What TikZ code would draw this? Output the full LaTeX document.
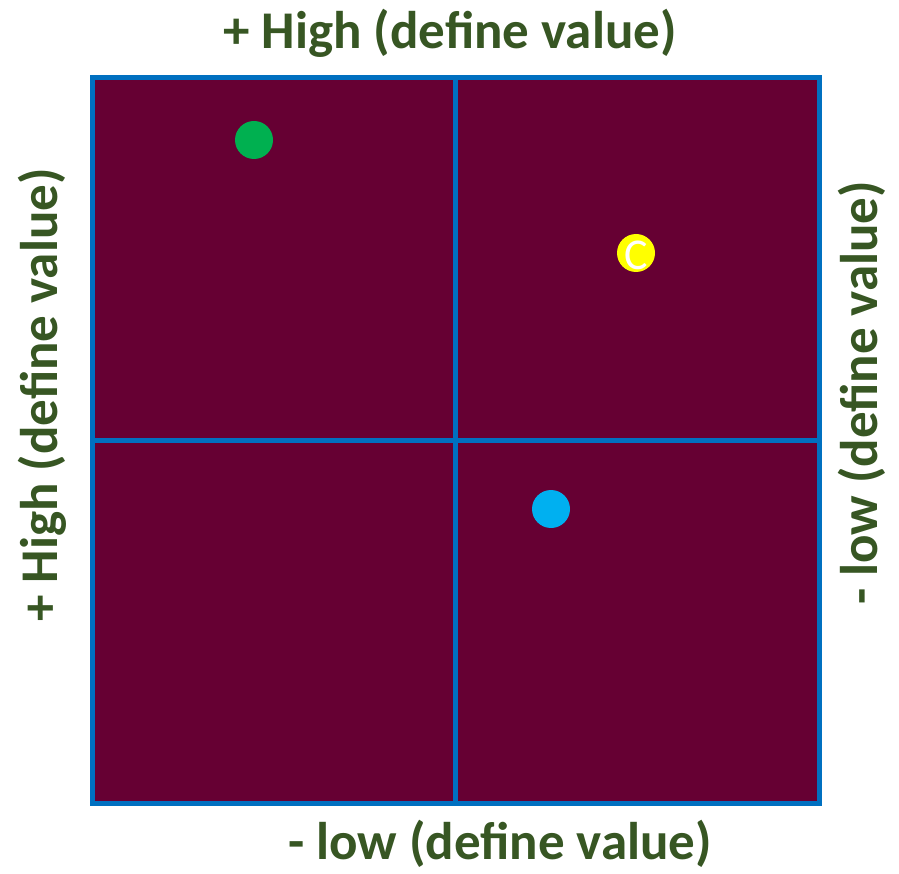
\documentclass[tikz,border=0pt]{standalone}
\usepackage{fontspec}
\setmainfont{Carlito}
\usetikzlibrary{positioning}
\definecolor{quadfill}{HTML}{660033}
\definecolor{quadline}{HTML}{0070C0}
\definecolor{axistext}{HTML}{375623}
\definecolor{dotgreen}{HTML}{00B050}
\definecolor{dotblue}{HTML}{00B0F0}
\definecolor{dotyellow}{HTML}{FFFF00}

\begin{document}
\begin{tikzpicture}[
    x=1pt, y=-1pt,
    every node/.style={inner sep=0pt, outer sep=0pt},
    axis_label/.style={text=axistext, font=\fontsize{53}{60}\selectfont\bfseries},
    dot/.style={circle, minimum size=38pt}
]
\useasboundingbox (0,0) rectangle (899,874);
\node (matrix_box) [draw=quadline, line width=5pt, fill=quadfill, minimum width=727pt, minimum height=725pt] at (455.5,440.5) {};
\draw[quadline, line width=5pt] (matrix_box.north) -- (matrix_box.south);
\draw[quadline, line width=5pt] (matrix_box.west) -- (matrix_box.east);

\node (top_label) [axis_label] at (450,33) {+ High (define value)};
\node (bottom_label) [axis_label] at (500,844) {- low (define value)};
\node (left_label) [axis_label, rotate=90] at (42,395) {+ High (define value)};
\node (right_label) [axis_label, rotate=90] at (862,393) {- low (define value)};

\node (green_dot) [dot, fill=dotgreen] at (254,140) {};
\node (yellow_dot) [dot, fill=dotyellow] at (636,253) {};
\node (yellow_letter) [text=white, font=\fontsize{44}{44}\selectfont, yshift=-2pt] at (yellow_dot.center) {C};
\node (blue_dot) [dot, fill=dotblue] at (551,509) {};
\end{tikzpicture}
\end{document}
